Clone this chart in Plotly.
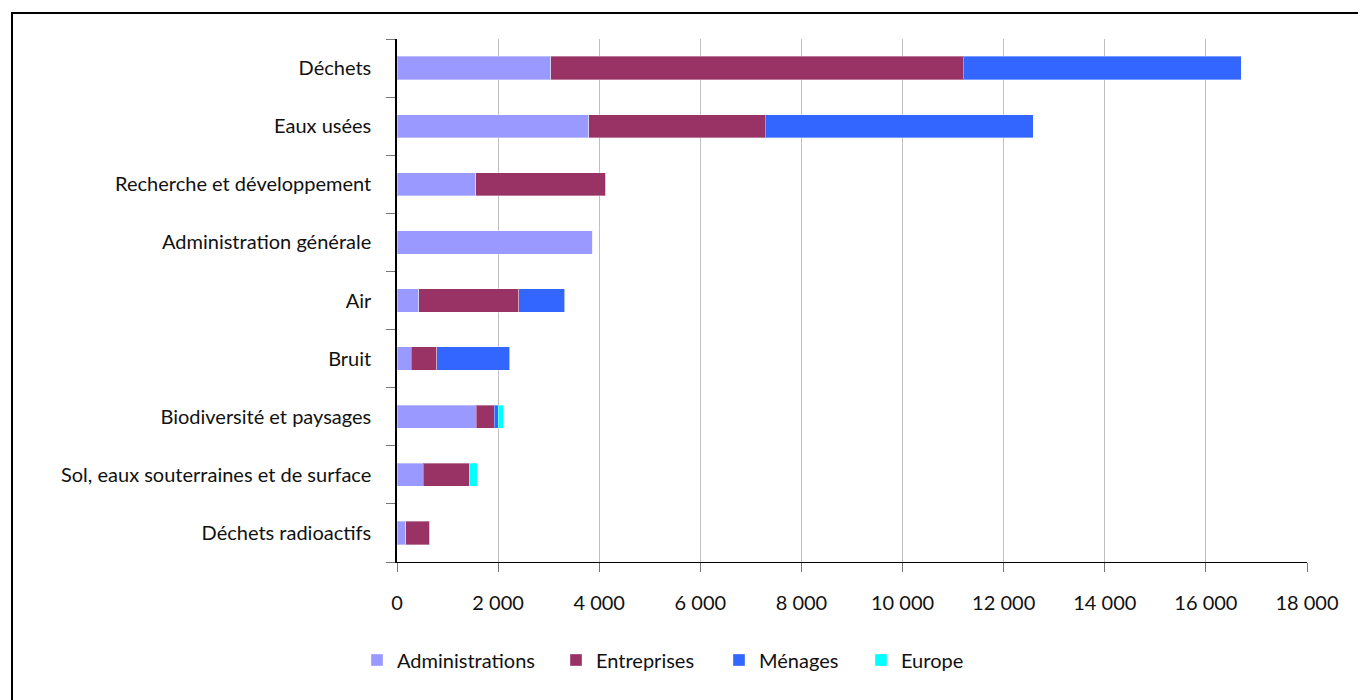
import plotly.graph_objects as go

# Environmental protection expenditure by domain and financing sector
categories = [
    "Déchets",
    "Eaux usées",
    "Recherche et développement",
    "Administration générale",
    "Air",
    "Bruit",
    "Biodiversité et paysages",
    "Sol, eaux souterraines et de surface",
    "Déchets radioactifs",
]
administrations = [3040, 3790, 1560, 3870, 430, 285, 1570, 515, 170]
entreprises = [8160, 3490, 2570, 0, 1980, 505, 355, 910, 475]
menages = [5500, 5310, 0, 0, 910, 1440, 80, 0, 0]
europe = [0, 0, 0, 0, 0, 0, 95, 165, 0]

tick_values = list(range(0, 18001, 2000))
tick_labels = ["0", "2 000", "4 000", "6 000", "8 000", "10 000",
               "12 000", "14 000", "16 000", "18 000"]

series = [
    ("Administrations", administrations, "#9999FF"),
    ("Entreprises", entreprises, "#993366"),
    ("Ménages", menages, "#3366FF"),
    ("Europe", europe, "#00FFFF"),
]

FONT = "Lato"
FONT_SIZE = 20
TEXT_COLOR = "#111111"

W, H = 1358, 700
ml, mr, mt, mb = 397, 51, 39, 138
pw, ph = W - ml - mr, H - mt - mb

# One legend per series so each entry sits at its own horizontal position
legend_left = [357, 556, 719, 861]
legend_ids = ["legend", "legend2", "legend3", "legend4"]

fig = go.Figure()
for (name, values, color), lid in zip(series, legend_ids):
    fig.add_trace(go.Bar(
        y=categories,
        x=values,
        name=name,
        orientation="h",
        legend=lid,
        marker=dict(color=color, line=dict(color="rgba(255,255,255,0.35)", width=1)),
    ))

legend_layouts = {}
for lid, lx in zip(legend_ids, legend_left):
    legend_layouts[lid] = dict(
        orientation="h",
        xref="container",
        yref="container",
        x=lx / W,
        xanchor="left",
        y=1 - 660 / H,
        yanchor="middle",
        font=dict(family=FONT, size=FONT_SIZE, color=TEXT_COLOR),
        itemwidth=30,
        bgcolor="rgba(0,0,0,0)",
    )

fig.update_layout(
    width=W,
    height=H,
    barmode="stack",
    bargap=0.6,
    margin=dict(l=ml, r=mr, t=mt, b=mb),
    paper_bgcolor="white",
    plot_bgcolor="white",
    font=dict(family=FONT, size=FONT_SIZE, color=TEXT_COLOR),
    showlegend=True,
    xaxis=dict(
        range=[0, 18000],
        tickvals=tick_values,
        ticktext=tick_labels,
        showgrid=True,
        gridcolor="#C0C0C0",
        gridwidth=1,
        zeroline=False,
        showline=True,
        linecolor="black",
        linewidth=1,
        ticks="outside",
        ticklen=9,
        tickcolor="#777777",
        ticklabelstandoff=14,
        fixedrange=True,
    ),
    yaxis=dict(
        categoryorder="array",
        categoryarray=categories[::-1],
        autorange=False,
        range=[-0.5, len(categories) - 0.5],
        showline=True,
        linecolor="black",
        linewidth=1.5,
        ticks="outside",
        tickson="boundaries",
        ticklen=9,
        tickcolor="#777777",
        ticklabelstandoff=20,
        showgrid=False,
        fixedrange=True,
    ),
    **legend_layouts,
)

# Frame around the chart (extends past the right and bottom edges)
x0 = (12 - ml) / pw
y1 = 1 + (mt - 13) / ph
fig.add_shape(
    type="rect", xref="paper", yref="paper",
    x0=x0, x1=x0 + 2, y0=y1 - 2, y1=y1,
    line=dict(color="black", width=2),
    fillcolor="rgba(0,0,0,0)",
    layer="above",
)

fig.write_html("out.html")
